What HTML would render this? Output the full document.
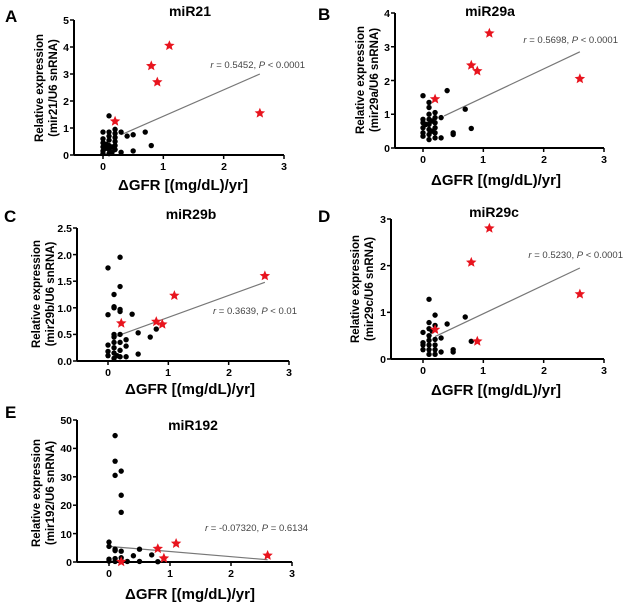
<!DOCTYPE html>
<html><head><meta charset="utf-8"><style>
body{margin:0;background:#fff;}
svg{display:block;font-family:"Liberation Sans",sans-serif;}
.t{font-weight:bold;font-size:14px;text-anchor:middle;}
.l{font-weight:bold;font-size:17px;}
.xl{font-weight:bold;font-size:15px;text-anchor:middle;}
.yl{font-weight:bold;font-size:11.5px;text-anchor:middle;}
.tk{font-weight:bold;font-size:10.5px;}
.an{font-size:9.5px;fill:#444;}
</style></head><body>
<svg id="s" width="626" height="605" viewBox="0 0 626 605" xmlns="http://www.w3.org/2000/svg">
<text class="l" x="5" y="22">A</text>
<text class="l" x="318" y="20">B</text>
<text class="l" x="4" y="222">C</text>
<text class="l" x="318" y="222">D</text>
<text class="l" x="5" y="418">E</text>
<text class="t" x="190" y="16">miR21</text>
<text class="t" x="490" y="16">miR29a</text>
<text class="t" x="191" y="219">miR29b</text>
<text class="t" x="494" y="217">miR29c</text>
<text class="t" x="193" y="430">miR192</text>
<text class="xl" x="183" y="190">ΔGFR [(mg/dL)/yr]</text>
<text class="xl" x="496" y="185">ΔGFR [(mg/dL)/yr]</text>
<text class="xl" x="190" y="394">ΔGFR [(mg/dL)/yr]</text>
<text class="xl" x="496" y="395">ΔGFR [(mg/dL)/yr]</text>
<text class="xl" x="190" y="599">ΔGFR [(mg/dL)/yr]</text>
<text class="yl" transform="translate(43,88) rotate(-90)">Relative expression</text>
<text class="yl" transform="translate(57,88) rotate(-90)">(mir21/U6 snRNA)</text>
<text class="yl" transform="translate(364,80) rotate(-90)">Relative expression</text>
<text class="yl" transform="translate(378,80) rotate(-90)">(mir29a/U6 snRNA)</text>
<text class="yl" transform="translate(40,294) rotate(-90)">Relative expression</text>
<text class="yl" transform="translate(54,294) rotate(-90)">(mir29b/U6 snRNA)</text>
<text class="yl" transform="translate(359,289) rotate(-90)">Relative expression</text>
<text class="yl" transform="translate(373,289) rotate(-90)">(mir29c/U6 snRNA)</text>
<text class="yl" transform="translate(40,493) rotate(-90)">Relative expression</text>
<text class="yl" transform="translate(54,493) rotate(-90)">(mir192/U6 snRNA)</text>
<text class="an" x="305" y="68" text-anchor="end"><tspan font-style="italic">r</tspan> = 0.5452, <tspan font-style="italic">P</tspan> &lt; 0.0001</text>
<text class="an" x="618" y="43" text-anchor="end"><tspan font-style="italic">r</tspan> = 0.5698, <tspan font-style="italic">P</tspan> &lt; 0.0001</text>
<text class="an" x="297" y="314" text-anchor="end"><tspan font-style="italic">r</tspan> = 0.3639, <tspan font-style="italic">P</tspan> &lt; 0.01</text>
<text class="an" x="623" y="258" text-anchor="end"><tspan font-style="italic">r</tspan> = 0.5230, <tspan font-style="italic">P</tspan> &lt; 0.0001</text>
<text class="an" x="205" y="531"><tspan font-style="italic">r</tspan> = -0.07320, <tspan font-style="italic">P</tspan> = 0.6134</text>
<g id="tk">
<text class="tk" x="69" y="24" text-anchor="end">5</text><text class="tk" x="69" y="51" text-anchor="end">4</text><text class="tk" x="69" y="78" text-anchor="end">3</text><text class="tk" x="69" y="105" text-anchor="end">2</text><text class="tk" x="69" y="132" text-anchor="end">1</text><text class="tk" x="69" y="159" text-anchor="end">0</text>
<text class="tk" x="103" y="170" text-anchor="middle">0</text><text class="tk" x="163" y="170" text-anchor="middle">1</text><text class="tk" x="224" y="170" text-anchor="middle">2</text><text class="tk" x="284" y="170" text-anchor="middle">3</text>
<text class="tk" x="390" y="17" text-anchor="end">4</text><text class="tk" x="390" y="51" text-anchor="end">3</text><text class="tk" x="390" y="85" text-anchor="end">2</text><text class="tk" x="390" y="118" text-anchor="end">1</text><text class="tk" x="390" y="152" text-anchor="end">0</text>
<text class="tk" x="423" y="163" text-anchor="middle">0</text><text class="tk" x="483" y="163" text-anchor="middle">1</text><text class="tk" x="544" y="163" text-anchor="middle">2</text><text class="tk" x="604" y="163" text-anchor="middle">3</text>
<text class="tk" x="72" y="232" text-anchor="end">2.5</text><text class="tk" x="72" y="259" text-anchor="end">2.0</text><text class="tk" x="72" y="285" text-anchor="end">1.5</text><text class="tk" x="72" y="312" text-anchor="end">1.0</text><text class="tk" x="72" y="338" text-anchor="end">0.5</text><text class="tk" x="72" y="365" text-anchor="end">0.0</text>
<text class="tk" x="108" y="376" text-anchor="middle">0</text><text class="tk" x="168" y="376" text-anchor="middle">1</text><text class="tk" x="229" y="376" text-anchor="middle">2</text><text class="tk" x="289" y="376" text-anchor="middle">3</text>
<text class="tk" x="386" y="223" text-anchor="end">3</text><text class="tk" x="386" y="270" text-anchor="end">2</text><text class="tk" x="386" y="316" text-anchor="end">1</text><text class="tk" x="386" y="363" text-anchor="end">0</text>
<text class="tk" x="423" y="374" text-anchor="middle">0</text><text class="tk" x="483" y="374" text-anchor="middle">1</text><text class="tk" x="544" y="374" text-anchor="middle">2</text><text class="tk" x="604" y="374" text-anchor="middle">3</text>
<text class="tk" x="72" y="424" text-anchor="end">50</text><text class="tk" x="72" y="452" text-anchor="end">40</text><text class="tk" x="72" y="481" text-anchor="end">30</text><text class="tk" x="72" y="509" text-anchor="end">20</text><text class="tk" x="72" y="538" text-anchor="end">10</text><text class="tk" x="72" y="566" text-anchor="end">0</text>
<text class="tk" x="109" y="577" text-anchor="middle">0</text><text class="tk" x="170" y="577" text-anchor="middle">1</text><text class="tk" x="231" y="577" text-anchor="middle">2</text><text class="tk" x="292" y="577" text-anchor="middle">3</text>
</g>
<g id="plots"></g>
</svg>
<script>
var NS="http://www.w3.org/2000/svg",G=document.getElementById("plots");
function el(n,a){var e=document.createElementNS(NS,n);for(var k in a)e.setAttribute(k,a[k]);G.appendChild(e);return e;}
function star(cx,cy,r){var p=[];for(var i=0;i<10;i++){var rr=i%2?r*0.45:r,a=-Math.PI/2+i*Math.PI/5;p.push((cx+rr*Math.cos(a)).toFixed(1)+","+(cy+rr*Math.sin(a)).toFixed(1));}el("polygon",{points:p.join(" "),fill:"#e8141e"});}
function panel(P){
 var sx=(P.x3-P.x0)/3,sy=(P.base-P.top)/P.ymax;
 function X(v){return P.x0+v*sx;} function Y(v){return P.base-v*sy;}
 el("line",{x1:P.ax,y1:P.top,x2:P.ax,y2:P.base,stroke:"#000","stroke-width":2});
 el("line",{x1:P.ax,y1:P.base,x2:P.x3,y2:P.base,stroke:"#000","stroke-width":2});
 for(var i=0;i<=P.nt;i++){var yy=Y(i*P.ymax/P.nt);el("line",{x1:P.ax-4,y1:yy,x2:P.ax,y2:yy,stroke:"#000","stroke-width":1.5});}
 for(var j=0;j<=3;j++)el("line",{x1:X(j),y1:P.base,x2:X(j),y2:P.base+4,stroke:"#000","stroke-width":1.5});
 el("line",{x1:X(P.line[0]),y1:Y(P.line[1]),x2:X(P.line[2]),y2:Y(P.line[3]),stroke:"#777","stroke-width":1.2});
 P.d.forEach(function(p){el("circle",{cx:X(p[0]),cy:Y(p[1]),r:2.7,fill:"#000"});});
 P.s.forEach(function(p){star(X(p[0]),Y(p[1]),5.5);});
}
panel({ax:74,top:20,base:155,x0:103,x3:284,ymax:5,nt:5,line:[0.3,0.75,2.6,3.0],
 d:[[0,0.05],[0,0.15],[0,0.3],[0,0.45],[0,0.6],[0,0.85],[0.05,0.25],[0.05,0.4],[0.1,0.05],[0.1,0.2],[0.1,0.35],[0.1,0.55],[0.1,0.7],[0.1,0.85],[0.1,1.45],[0.15,0.3],[0.15,0.1],[0.2,0.2],[0.2,0.35],[0.2,0.5],[0.2,0.65],[0.2,0.8],[0.2,0.95],[0.3,0.1],[0.3,0.85],[0.4,0.7],[0.5,0.75],[0.5,0.15],[0.7,0.85],[0.8,0.35]],
 s:[[0.2,1.25],[0.8,3.3],[0.9,2.7],[1.1,4.05],[2.6,1.55]]});
panel({ax:395,top:13,base:148,x0:423,x3:604,ymax:4,nt:4,line:[0.35,0.95,2.6,2.85],
 d:[[0,0.35],[0,0.45],[0,0.6],[0,0.75],[0,0.85],[0,1.55],[0.05,0.7],[0.1,0.25],[0.1,0.4],[0.1,0.55],[0.1,0.7],[0.1,0.85],[0.1,1.0],[0.1,1.2],[0.1,1.35],[0.15,0.5],[0.15,0.8],[0.2,0.3],[0.2,0.45],[0.2,0.6],[0.2,0.75],[0.2,0.9],[0.2,1.05],[0.3,0.3],[0.3,0.9],[0.4,1.7],[0.5,0.4],[0.5,0.45],[0.7,1.15],[0.8,0.58]],
 s:[[0.2,1.45],[0.8,2.45],[0.9,2.28],[1.1,3.4],[2.6,2.05]]});
panel({ax:77,top:228,base:361,x0:108,x3:289,ymax:2.5,nt:5,line:[0.1,0.45,2.6,1.48],
 d:[[0,0.1],[0,0.18],[0,0.3],[0,0.87],[0,1.75],[0.1,0.05],[0.1,0.15],[0.1,0.25],[0.1,0.35],[0.1,0.45],[0.1,0.5],[0.1,1.0],[0.1,1.02],[0.1,1.25],[0.15,0.1],[0.2,0.08],[0.2,0.2],[0.2,0.35],[0.2,0.5],[0.2,0.93],[0.2,0.97],[0.2,1.4],[0.2,1.95],[0.3,0.08],[0.3,0.28],[0.3,0.4],[0.4,0.88],[0.5,0.13],[0.5,0.53],[0.7,0.45],[0.8,0.6]],
 s:[[0.22,0.71],[0.8,0.74],[0.9,0.69],[1.1,1.23],[2.6,1.6]]});
panel({ax:391,top:219,base:359,x0:423,x3:604,ymax:3,nt:3,line:[0.2,0.48,2.6,1.95],
 d:[[0,0.2],[0,0.3],[0,0.35],[0,0.57],[0.1,0.1],[0.1,0.2],[0.1,0.3],[0.1,0.4],[0.1,0.5],[0.1,0.65],[0.1,0.78],[0.1,1.28],[0.15,0.6],[0.2,0.1],[0.2,0.2],[0.2,0.3],[0.2,0.42],[0.2,0.72],[0.2,0.94],[0.3,0.15],[0.3,0.45],[0.4,0.75],[0.5,0.15],[0.5,0.2],[0.7,0.9],[0.8,0.38]],
 s:[[0.2,0.63],[0.8,2.07],[0.9,0.38],[1.1,2.8],[2.6,1.39]]});
panel({ax:77,top:420,base:562,x0:109,x3:292,ymax:50,nt:5,line:[0,5.5,2.6,0.8],
 d:[[0,0.3],[0,1],[0,5.5],[0,7],[0.1,0.2],[0.1,1.2],[0.1,4],[0.1,4.5],[0.1,30.5],[0.1,35.5],[0.1,44.5],[0.2,0.3],[0.2,1.5],[0.2,3.8],[0.2,17.5],[0.2,23.5],[0.2,32],[0.3,0.2],[0.4,2.2],[0.5,0.2],[0.5,4.5],[0.7,2.5],[0.8,0.1]],
 s:[[0.2,0.1],[0.8,4.7],[0.9,1.3],[1.1,6.5],[2.6,2.3]]});
</script>
</body></html>
